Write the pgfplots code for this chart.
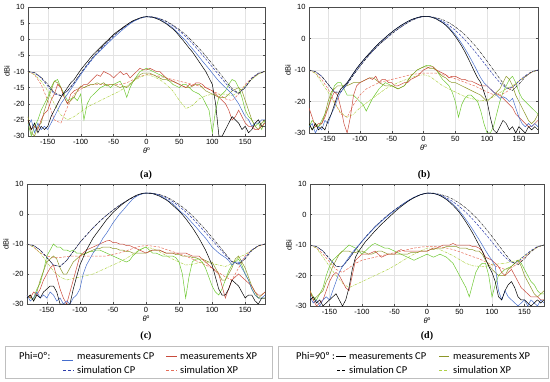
\documentclass[border=0pt]{standalone}
\usepackage{pgfplots}
\pgfplotsset{compat=1.18}
\usepackage{pgfplotstable}
\usepackage{fontspec}
\setmainfont{Liberation Sans}
\newfontfamily\legfont{Carlito}
\newfontfamily\capfont{Liberation Serif}

\definecolor{blueM}{RGB}{70,110,205}
\definecolor{blueS}{RGB}{45,60,170}
\definecolor{redM}{RGB}{200,75,60}
\definecolor{redS}{RGB}{230,110,90}
\definecolor{oliveM}{RGB}{140,150,40}
\definecolor{greenM}{RGB}{110,200,50}
\definecolor{greenS}{RGB}{175,210,70}
\definecolor{blackS}{RGB}{40,40,40}

\pgfplotstableread{
x bm km rm gm om
-180 -27 -25 -25 -26 -24
-175 -25 -28 -28 -30 -29
-170 -29 -26 -27 -27 -30
-165 -26 -29 -28 -25 -27
-160 -28 -27 -25 -22 -26
-155 -27 -28 -23 -20 -22
-150 -28 -27 -22 -18 -19
-145 -26 -24 -19 -15 -16
-140 -24 -22 -17 -13 -13
-135 -22 -20 -14 -12.5 -13.5
-130 -20 -18 -15 -15 -15
-125 -18.5 -16.5 -18 -17 -18
-120 -17 -15 -20 -19 -20
-115 -15.5 -13.5 -17 -18.5 -19
-110 -14 -12.5 -16 -18 -18
-105 -12.5 -11 -15.5 -19 -16
-100 -11 -9.5 -15 -17 -14.5
-95 -9.5 -8.2 -14 -25 -15
-90 -8 -7 -14 -20 -14.5
-85 -6.8 -5.7 -13 -18 -14
-80 -5.5 -4.5 -12 -17 -14
-75 -4.5 -3.5 -11 -16 -13.5
-70 -3.5 -2.5 -11.5 -15 -14
-65 -2.5 -1.5 -10 -14.5 -13.5
-60 -1.5 -0.5 -10.5 -14 -14.5
-55 -0.5 0.5 -11 -15 -14
-50 0.5 1.5 -12 -14 -14
-45 1.4 2.3 -11 -13.5 -14.5
-40 2.3 3 -10 -13 -15
-35 3.2 3.8 -11 -15 -14.5
-30 4 4.5 -10.5 -18 -15
-25 4.8 5.2 -12 -15 -14
-20 5.5 5.8 -11 -13 -13
-15 6 6.2 -10 -11.5 -12
-10 6.5 6.6 -9 -10 -11
-5 6.8 6.9 -9.5 -9.5 -10.5
0 7 7 -9.5 -9 -10.5
5 6.9 6.9 -9 -9.5 -10.5
10 6.8 6.8 -9.5 -10 -11
15 6.5 6.4 -10 -10.5 -11.5
20 6.2 6 -10 -11 -12
25 5.6 5.4 -11 -11.5 -12.5
30 5 4.8 -12 -12 -12.5
35 4.3 4 -12.5 -13 -13
40 3.5 3.2 -13 -14 -13
45 2.5 2.2 -13.5 -14.5 -13.5
50 1.5 1 -14 -15 -14
55 0.5 -0.2 -14.5 -14 -14.5
60 -0.5 -1.5 -15 -14 -15
65 -1.8 -2.8 -14 -15 -15
70 -3 -4 -14.5 -16 -14.5
75 -4.2 -5.5 -13.5 -16.5 -14
80 -5.5 -7 -13.5 -17 -14
85 -6.8 -8.5 -14 -18 -15
90 -8 -10 -15 -20 -16
95 -9.2 -12 -15.5 -22 -16.5
100 -10.5 -14 -16 -29 -17
105 -11.8 -20 -17 -22 -17.5
110 -13 -30 -18 -18 -18
115 -14 -30 -19 -17 -18
120 -15 -28 -20 -16 -18
125 -16 -26 -22 -14 -17
130 -17 -24 -25 -12.5 -16
135 -18.5 -25 -24 -13 -15.5
140 -20 -26 -22 -15 -15
145 -22 -28 -24 -18 -16
150 -24 -27 -26 -22 -19
155 -25 -29 -27 -24 -22
160 -27 -28 -27 -25 -25
165 -26 -26 -28 -27 -27
170 -26 -25 -28 -26 -28
175 -25 -27 -27 -28 -26
180 -25 -27 -26 -25 -25
}\mA
\pgfplotstableread{
x bs ks rs gs
-180 -10 -10 -10 -10
-170 -10.5 -10.3 -11 -11
-160 -12 -11.8 -14 -13
-150 -14.5 -14 -19 -16
-140 -17 -16.5 -25 -20
-130 -17.5 -17.5 -26 -23.5
-120 -16 -16 -21 -25
-110 -13.5 -13.5 -17 -24
-100 -10.8 -10.5 -15.5 -22.5
-90 -8.2 -7.8 -14.5 -21
-80 -5.6 -5.2 -14 -20
-70 -3.2 -2.9 -14 -19
-60 -1 -0.8 -14 -18
-50 1 1.1 -14 -17
-40 2.8 2.9 -14 -16
-30 4.3 4.4 -13.5 -14.5
-20 5.6 5.6 -12.5 -13
-10 6.5 6.5 -11.5 -11.8
0 7 7 -11 -11
10 6.9 6.9 -11 -11.5
20 6.4 6.4 -11.5 -12.5
30 5.5 5.6 -12 -14
40 4.2 4.4 -12.5 -16
50 2.6 3 -13 -19
60 0.7 1.3 -13.5 -21.5
70 -1.4 -0.7 -14 -20.5
80 -3.7 -2.8 -14.5 -18.5
90 -6.1 -5.2 -15 -17.5
100 -8.6 -7.6 -16 -17
110 -11.1 -10.2 -17 -17
120 -13.6 -12.8 -18.5 -17
130 -15.8 -15.3 -19 -17.5
140 -16.8 -16.8 -17 -16.5
150 -14.8 -15 -14 -14.5
160 -12 -12.2 -12 -12.5
170 -10.5 -10.6 -10.7 -10.8
180 -10 -10 -10 -10
}\sA
\pgfplotstableread{
x bm km rm gm om
-180 -28 -27 -22 -28 -27
-175 -27 -29 -25 -26 -29
-170 -30 -27 -28 -27 -28
-165 -28 -29 -27 -28 -28
-160 -29 -28 -27 -26 -27
-155 -26 -29 -25 -24 -24
-150 -27 -26 -22 -22 -20
-145 -24 -24 -19 -18 -17
-140 -22 -21 -17 -15 -16
-135 -19 -18 -18 -14 -15
-130 -17 -16 -22 -14 -15
-125 -15.5 -15 -27 -16 -15
-120 -14 -14 -30 -18 -15
-115 -12.5 -12.5 -25 -18 -14.5
-110 -11 -11 -18 -18 -14
-105 -9.5 -9.5 -15 -19 -14
-100 -8.2 -8.2 -14 -20 -14
-95 -7 -7 -13.5 -21 -13.5
-90 -5.8 -5.8 -13 -23 -13
-85 -4.7 -4.7 -12.5 -21 -12.5
-80 -3.6 -3.6 -13 -19 -12.5
-75 -2.5 -2.5 -12 -17.5 -13
-70 -1.5 -1.5 -14 -16 -14
-65 -0.6 -0.6 -13 -15 -14.5
-60 0.3 0.3 -13 -14 -15
-55 1.2 1.2 -14 -14.5 -15
-50 2 2 -14 -15 -15
-45 2.8 2.8 -15 -15.5 -15.5
-40 3.5 3.5 -15 -16 -16
-35 4.2 4.2 -14.5 -15.5 -15.5
-30 4.8 4.8 -14 -15 -15
-25 5.4 5.4 -14 -13.5 -13.5
-20 5.9 5.9 -13 -12 -12
-15 6.3 6.3 -12.5 -11 -11
-10 6.6 6.6 -12 -10 -10
-5 6.9 6.9 -11 -9.5 -9.5
0 7 7 -10 -9 -9
5 7 7 -9.5 -8.5 -9
10 6.9 6.9 -9 -8.5 -9.5
15 6.7 6.6 -9 -9 -9.5
20 6.3 6.2 -10 -10 -10
25 5.8 5.6 -10.5 -11.5 -11
30 5.2 5 -11 -13 -12
35 4.4 4.2 -11.5 -14 -12.5
40 3.5 3.2 -12.5 -15 -13.5
45 2.4 2 -12 -17 -14
50 1.2 0.7 -12 -20 -14
55 -0.1 -0.8 -12.5 -25 -14.5
60 -1.6 -2.4 -13 -21 -15
65 -3.2 -4.2 -13 -19 -15.5
70 -4.9 -6.2 -13.5 -18 -16
75 -6.7 -8.3 -13.5 -18 -16.5
80 -8.6 -10.5 -14 -19 -17
85 -10.6 -12.5 -14.5 -20 -17.5
90 -12.5 -14 -15 -23 -18
95 -14 -17 -15 -27 -19
100 -15 -20 -15 -30 -20
105 -16 -25 -16 -30 -19
110 -17 -29 -17 -28 -18
115 -18 -30 -17.5 -24 -17
120 -19 -28 -18 -20 -16
125 -18.5 -26 -19 -17 -14
130 -19 -27 -20 -15 -12
135 -20 -29 -21 -13 -13
140 -19 -28 -22 -12 -15
145 -22 -30 -24 -14 -18
150 -25 -28 -25 -17 -20
155 -27 -29 -26 -19 -22
160 -28 -30 -27 -20 -24
165 -27 -28 -28 -21 -26
170 -28 -29 -28 -22 -27
175 -27 -28 -27 -23 -26
180 -28 -29 -26 -24 -24
}\mB
\pgfplotstableread{
x bs ks rs gs
-180 -10 -10 -10 -10
-170 -10.5 -10.5 -11 -11
-160 -12 -12 -13 -14
-150 -14.5 -14.5 -16 -17
-140 -17 -17 -20 -20.5
-130 -17 -17 -24 -23.5
-120 -14.5 -14.5 -25 -25
-110 -11.5 -11.5 -21 -24
-100 -8.8 -8.8 -18 -22
-90 -6.3 -6.3 -16 -20.5
-80 -4 -4 -15 -19
-70 -2 -2 -14 -17.5
-60 -0.2 -0.2 -13.5 -16
-50 1.5 1.5 -13 -15
-40 3 3 -12.5 -14
-30 4.4 4.4 -12 -13.2
-20 5.6 5.6 -11.5 -12.5
-10 6.5 6.5 -11.2 -11.8
0 7 7 -11 -11.5
10 6.9 7 -11 -12
20 6.4 6.6 -11 -13.5
30 5.5 6 -11.5 -15
40 4.2 5 -12 -16
50 2.6 3.7 -12.8 -17
60 0.7 2.1 -13.5 -18
70 -1.5 0.2 -14.3 -18.8
80 -3.9 -2 -15 -19.3
90 -6.4 -4.5 -16 -19.8
100 -9 -7.2 -17 -19.5
110 -11.6 -10 -17.8 -18.5
120 -14 -12.8 -18 -17.2
130 -15.8 -15.5 -17 -16
140 -15.5 -16.5 -15.5 -15
150 -13.5 -14.5 -13.5 -13.5
160 -11.8 -12.2 -12 -12
170 -10.5 -10.6 -10.7 -10.7
180 -10 -10 -10 -10
}\sB
\pgfplotstableread{
x bm km rm gm om
-180 -27 -28 -27 -27 -28
-175 -29 -27 -28 -28 -27
-170 -28 -29 -26 -28 -29
-165 -26 -27 -27 -25 -26
-160 -28 -28 -25 -23 -22
-155 -27 -26 -22 -19 -19
-150 -28 -25 -20 -14 -16
-145 -26 -24 -18 -12 -15
-140 -27 -24 -17 -10 -14
-135 -29 -26 -21 -11 -15
-130 -28 -30 -25 -11 -18
-125 -30 -30 -28 -12 -20
-120 -29 -30 -30 -12 -20
-115 -30 -30 -26 -12.5 -18
-110 -28 -25 -22 -12 -16
-105 -27 -21 -18 -13 -15
-100 -25 -17 -14 -13 -14
-95 -20 -14.5 -13 -13.5 -13.5
-90 -17 -12 -12 -13 -13
-85 -15 -10 -11.5 -12.5 -12.5
-80 -13 -8 -11 -12.5 -12
-75 -11.5 -6.5 -10.5 -12 -11.5
-70 -10 -5 -10 -12 -11.5
-65 -8 -3.5 -9.5 -12.5 -11
-60 -6.5 -2 -9 -13 -11
-55 -4.8 -0.8 -8.8 -13.5 -11
-50 -3 0.5 -9.5 -14 -11.5
-45 -1.5 1.5 -9.5 -14.5 -11.5
-40 0 2.5 -10 -15 -12
-35 1.2 3.4 -10 -15.5 -12
-30 2.5 4.2 -10.5 -16 -12.5
-25 3.8 5 -10.5 -15.5 -12.5
-20 5 5.6 -11 -14 -13
-15 5.8 6.2 -11.5 -13 -13
-10 6.4 6.6 -12 -12 -13
-5 6.8 6.9 -12.5 -11.5 -13
0 7 7 -13 -11 -13
5 7 6.9 -12.5 -12 -12.5
10 6.8 6.8 -12 -13 -12
15 6.5 6.4 -12 -13 -12
20 6.2 6 -12 -13.5 -12
25 5.6 5.4 -12.5 -14 -12.5
30 5 4.8 -13 -14 -13
35 4.2 4 -13 -14 -13
40 3.5 3 -13 -14 -13
45 2.5 2 -13 -14.5 -13.5
50 1.3 1 -13 -16 -13.5
55 0.3 -0.2 -13 -20 -14
60 -0.5 -1.5 -13 -28 -14
65 -1.8 -3 -13.5 -21 -14
70 -3 -4.5 -14 -16 -14.5
75 -4.2 -6.2 -14 -15 -14.5
80 -5.5 -8 -14 -15 -15
85 -6.8 -10 -15 -16 -15
90 -8 -12 -16 -18 -15.5
95 -9.5 -14.5 -17 -21 -16
100 -11 -17 -18 -24 -16
105 -12 -21 -19 -26 -18
110 -13 -25 -20 -27 -20
115 -13.8 -27 -24 -25 -22
120 -14.5 -27 -28 -22 -22
125 -15.5 -25 -25 -19 -20
130 -17 -22 -22 -17 -18
135 -16 -23 -21 -16 -15
140 -16 -24 -20 -15 -14
145 -18 -26 -21 -17 -16
150 -20 -28 -22 -20 -18
155 -22 -27 -23 -22 -21
160 -25 -27 -24 -25 -24
165 -27 -29 -26 -27 -26
170 -28 -30 -27 -28 -28
175 -28 -28 -27 -28 -27
180 -27 -28 -26 -28 -26
}\mC
\pgfplotstableread{
x bs ks rs gs
-180 -10 -10 -10 -10
-170 -10.5 -10.5 -11 -11
-160 -12 -12 -13 -13
-150 -14.5 -14.5 -14 -16
-140 -17 -17 -14.5 -19
-130 -17.5 -17.5 -14.5 -21
-120 -15.5 -15.5 -14.2 -22
-110 -12.5 -12.5 -14 -21.5
-100 -9.5 -9.5 -14 -21
-90 -7 -7 -14 -20.5
-80 -4.6 -4.6 -14 -20
-70 -2.4 -2.4 -14 -19
-60 -0.5 -0.5 -14 -18
-50 1.3 1.3 -13.5 -17
-40 2.9 2.9 -13 -16
-30 4.3 4.3 -12.3 -14.8
-20 5.5 5.5 -11.5 -13.5
-10 6.5 6.5 -10.8 -12
0 7 7 -10.5 -11
10 6.9 6.9 -10.7 -11.5
20 6.4 6.5 -11 -12.5
30 5.5 5.8 -11.8 -13.8
40 4.2 4.6 -12.5 -15
50 2.6 3.2 -13.3 -16
60 0.7 1.5 -14 -17
70 -1.4 -0.5 -15 -16.8
80 -3.8 -2.8 -16 -16.2
90 -6.2 -5.2 -17 -16
100 -8.7 -7.8 -18 -16.5
110 -11.2 -10.5 -19.5 -17
120 -13.7 -13.2 -21 -17.5
130 -16 -15.8 -22 -16.5
140 -16.5 -16.8 -18 -14.5
150 -14.5 -15 -14 -13.5
160 -12 -12.2 -12 -12
170 -10.5 -10.6 -10.7 -10.7
180 -10 -10 -10 -10
}\sC
\pgfplotstableread{
x bm km rm gm om
-180 -27 -28 -25 -25 -25
-175 -29 -27 -28 -27 -28
-170 -28 -29 -30 -28 -27
-165 -30 -28 -29 -26 -26
-160 -28 -30 -28 -24 -25
-155 -27 -29 -25 -20 -22
-150 -28 -28 -22 -17 -20
-145 -25 -27 -20 -15 -17
-140 -22 -26 -19 -14 -15
-135 -19 -28 -20 -13 -13
-130 -17 -30 -22 -12 -12
-125 -15.5 -28 -24 -11 -12
-120 -14 -24 -25 -10 -12
-115 -12.5 -18 -20 -10.5 -12.5
-110 -11.2 -14 -15 -11 -12.5
-105 -10 -12 -14 -12 -12
-100 -8.8 -10.5 -13 -13 -12
-95 -7.6 -9 -13 -12 -12.5
-90 -6.4 -7.8 -13 -11 -13
-85 -5.3 -6.6 -12.5 -10 -13
-80 -4.2 -5.4 -12 -9.5 -12.5
-75 -3.2 -4.3 -13 -10 -12
-70 -2.2 -3.2 -14 -10.5 -12
-65 -1.3 -2.2 -13.5 -11 -12.5
-60 -0.4 -1.2 -13 -11 -13
-55 0.5 -0.2 -13 -11.5 -13
-50 1.3 0.8 -13 -12 -13
-45 2.1 1.7 -12 -12.5 -13
-40 2.9 2.6 -11.5 -13 -13
-35 3.7 3.4 -12 -13.5 -13
-30 4.4 4.2 -12 -14 -13
-25 5 4.9 -12 -14.5 -12.5
-20 5.6 5.5 -12 -15 -12.5
-15 6.1 6 -12 -14.5 -12.5
-10 6.5 6.5 -12 -14 -12
-5 6.8 6.8 -12 -13.5 -12
0 7 7 -12 -13 -12
5 7 7 -11.5 -13.5 -11.5
10 6.9 6.9 -11 -14 -11.5
15 6.7 6.6 -11 -13.5 -11
20 6.3 6.2 -10.5 -13 -11
25 5.7 5.6 -10 -13.5 -11
30 5.1 4.9 -10 -14 -10.5
35 4.3 4 -10 -15 -10.5
40 3.4 3 -9.5 -16 -10.5
45 2.3 1.9 -10 -18 -10.5
50 1.1 0.6 -10 -20 -11
55 -0.2 -0.9 -10 -22 -11
60 -1.7 -2.5 -10 -24 -11
65 -3.2 -4.2 -10 -27 -11.5
70 -4.8 -6 -10.5 -23 -11.5
75 -6.5 -8 -10.5 -19 -12
80 -8.2 -10 -11 -17 -12
85 -10 -12 -12 -16 -13
90 -11.8 -14.5 -14 -16 -15
95 -13.5 -17 -14.5 -20 -16.5
100 -15 -19 -15 -27 -18
105 -17 -22 -16 -23 -19
110 -25 -27 -17 -20 -20
115 -28 -28 -19 -19 -20
120 -25 -25 -20 -18 -20
125 -27 -23 -19 -17.5 -18
130 -28 -22 -18 -17 -17
135 -29 -24 -20 -16 -16
140 -30 -27 -22 -15 -15
145 -29 -28 -24 -16 -17
150 -28 -28 -25 -18 -20
155 -30 -29 -26 -20 -22
160 -28 -30 -27 -22 -24
165 -29 -29 -27 -23 -26
170 -30 -28 -27 -25 -27
175 -28 -29 -28 -26 -26
180 -29 -28 -28 -26 -25
}\mD
\pgfplotstableread{
x bs ks rs gs
-180 -10 -10 -10 -10
-170 -10.5 -10.5 -11 -11
-160 -12 -12 -13 -14
-150 -14.5 -14.5 -15.5 -17
-140 -17 -17 -18 -20
-130 -17 -17 -19 -22.5
-120 -14.5 -14.5 -17.5 -24
-110 -11.5 -11.5 -16 -23
-100 -8.8 -8.8 -15 -22
-90 -6.3 -6.3 -14.5 -21
-80 -4 -4 -14 -20
-70 -2 -2 -13.5 -19
-60 -0.2 -0.2 -13 -18
-50 1.5 1.5 -12.5 -16.8
-40 3 3 -12 -15.5
-30 4.4 4.4 -11.5 -14.2
-20 5.6 5.6 -11 -13
-10 6.5 6.5 -10.7 -12
0 7 7 -10.5 -11
10 6.9 7 -10.5 -11
20 6.4 6.6 -10.6 -11.5
30 5.5 6 -11 -12.5
40 4.2 5 -11.5 -13.5
50 2.6 3.7 -12.2 -14.8
60 0.7 2.1 -13 -16
70 -1.5 0.2 -13.8 -16.8
80 -3.9 -2 -14.5 -17
90 -6.4 -4.5 -15.5 -17
100 -9 -7.2 -16.5 -16.5
110 -11.6 -10 -17.3 -16.2
120 -14 -12.8 -18 -16
130 -15.8 -15.5 -17.5 -15.5
140 -15.5 -16.5 -16 -15
150 -13.5 -14.5 -14 -13.5
160 -11.8 -12.2 -12 -12
170 -10.5 -10.6 -10.7 -10.7
180 -10 -10 -10 -10
}\sD

\pgfplotsset{
  panel/.style={
    scale only axis, anchor=north west,
    xmin=-180, xmax=180, ymin=-30, ymax=10,
    xtick={-150,-100,...,150},
    grid=major, grid style={gray!22, line width=0.3pt},
    axis line style={gray!60!black, line width=0.4pt},
    tick align=inside, major tick length=2pt,
    tick style={gray!60!black, line width=0.3pt},
    /pgf/number format/assume math mode=true,
    tick label style={font=\fontsize{7.5}{8}\selectfont},
    label style={font=\fontsize{7.5}{8}\selectfont},
    xlabel={\textit{θ}\raisebox{0.6ex}{\fontsize{5}{5}\selectfont o}},
    ylabel={dBi},
    xlabel style={yshift=4pt},
    ylabel style={yshift=-3pt},
    every axis plot/.append style={line width=0.5pt},
  },
  mb/.style={blueM},
  sb/.style={blueS, dash pattern=on 2.5pt off 1.5pt},
  mk/.style={black},
  sk/.style={blackS, dash pattern=on 2.5pt off 1pt on 0.5pt off 1pt},
  mr/.style={redM},
  sr/.style={redS, dash pattern=on 2.5pt off 1.5pt},
  mg/.style={greenM},
  mo/.style={oliveM},
  sg/.style={greenS, dash pattern=on 2.5pt off 1pt on 0.5pt off 1pt},
}
\newcommand{\drawpanel}[2]{%
  \addplot[sr] table[x=x,y=rs]{#2};
  \addplot[sg] table[x=x,y=gs]{#2};
  \addplot[mg] table[x=x,y=gm]{#1};
  \addplot[mo] table[x=x,y=om]{#1};
  \addplot[mr] table[x=x,y=rm]{#1};
  \addplot[sb] table[x=x,y=bs]{#2};
  \addplot[sk] table[x=x,y=ks]{#2};
  \addplot[mb] table[x=x,y=bm]{#1};
  \addplot[mk] table[x=x,y=km]{#1};
}

\begin{document}
\begin{tikzpicture}
\useasboundingbox (0,0) rectangle (550pt,-381pt);

\begin{axis}[panel, at={(28pt,-7pt)}, width=237pt, height=129pt, ytick={-30,-25,...,10}]
\drawpanel{\mA}{\sA}
\end{axis}
\begin{axis}[panel, at={(309pt,-7pt)}, width=229pt, height=126pt, ytick={-30,-20,...,10}]
\drawpanel{\mB}{\sB}
\end{axis}
\begin{axis}[panel, at={(27pt,-184pt)}, width=238pt, height=120pt, ytick={-30,-20,...,10}]
\drawpanel{\mC}{\sC}
\end{axis}
\begin{axis}[panel, at={(310pt,-184pt)}, width=234pt, height=122pt, ytick={-30,-20,...,10}]
\drawpanel{\mD}{\sD}
\end{axis}

\node[font=\capfont\bfseries\fontsize{10}{11}\selectfont] at (146pt,-175pt) {(a)};
\node[font=\capfont\bfseries\fontsize{10}{11}\selectfont] at (424pt,-175pt) {(b)};
\node[font=\capfont\bfseries\fontsize{10}{11}\selectfont] at (146pt,-336pt) {(c)};
\node[font=\capfont\bfseries\fontsize{10}{11}\selectfont] at (427pt,-336pt) {(d)};

% legend boxes
\draw[gray!50, line width=0.6pt] (5pt,-346pt) rectangle (272pt,-378pt);
\draw[gray!50, line width=0.6pt] (278pt,-346pt) rectangle (548pt,-378pt);
\begin{scope}[every node/.style={font=\legfont\fontsize{10.5}{11}\selectfont, anchor=base west, inner sep=0pt}]
\node at (19pt,-359pt) {Phi=0º:};
\draw[blueM, line width=0.8pt] (62pt,-360pt) -- (73pt,-360pt);
\node at (77pt,-359pt) {measurements CP};
\draw[blueS, line width=0.8pt, dash pattern=on 3pt off 2pt] (63pt,-370pt) -- (74pt,-370pt);
\node at (77pt,-373pt) {simulation CP};
\draw[redM, line width=0.8pt] (166pt,-356pt) -- (177pt,-356pt);
\node at (180pt,-359pt) {measurements XP};
\draw[redS, line width=0.8pt, dash pattern=on 3pt off 2pt] (166pt,-370pt) -- (177pt,-370pt);
\node at (180pt,-373pt) {simulation XP};

\node at (296pt,-359pt) {Phi=90º :};
\draw[black, line width=0.7pt] (336pt,-356pt) -- (346pt,-356pt);
\node at (349pt,-359pt) {measurements CP};
\draw[black, line width=0.7pt, dash pattern=on 3pt off 2pt] (337pt,-370pt) -- (346pt,-370pt);
\node at (349pt,-373pt) {simulation CP};
\draw[oliveM, line width=0.7pt] (439pt,-356pt) -- (449pt,-356pt);
\node at (453pt,-359pt) {measurements XP};
\draw[greenS, line width=0.7pt, dash pattern=on 3pt off 2pt] (439pt,-370pt) -- (449pt,-370pt);
\node at (453pt,-373pt) {simulation XP};
\end{scope}
\end{tikzpicture}
\end{document}
